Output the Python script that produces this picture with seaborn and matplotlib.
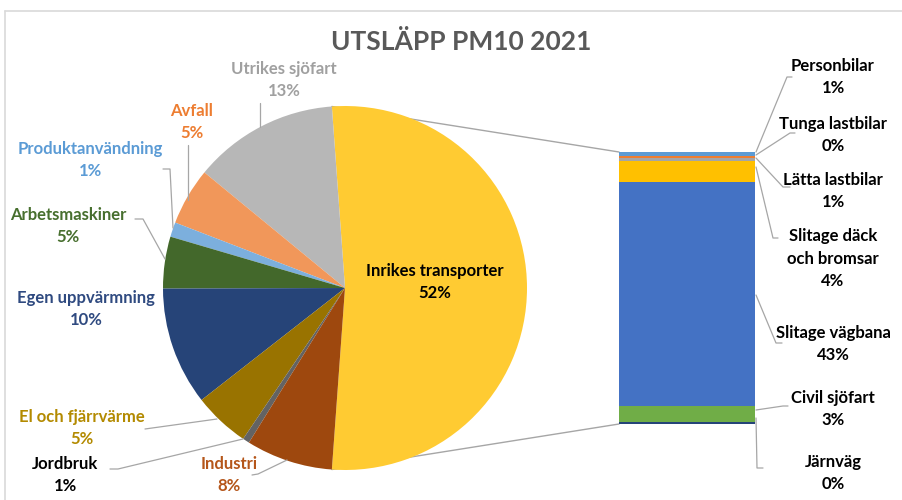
import matplotlib
matplotlib.use("Agg")
import matplotlib.pyplot as plt
import seaborn as sns
import numpy as np
from matplotlib.patches import ConnectionPatch
from matplotlib.lines import Line2D

sns.set_style("white")
plt.rcParams['font.family'] = ['Lato', 'DejaVu Sans']

# ---- data ----
title = "UTSLÄPP PM10 2021"
bar_categories = ["Järnväg", "Civil sjöfart", "Slitage vägbana", "Slitage däck\noch bromsar",
                  "Lätta lastbilar", "Tunga lastbilar", "Personbilar"]
bar_values = [0.3, 3.2, 43.0, 4.0, 0.7, 0.4, 0.7]
bar_labels_pct = ["0%", "3%", "43%", "4%", "1%", "0%", "1%"]
bar_colors = ["#264478", "#70AD47", "#4472C4", "#FFC000", "#A5A5A5", "#ED7D31", "#5B9BD5"]

pie_categories = ["Inrikes transporter", "Utrikes sjöfart", "Avfall", "Produktanvändning",
                  "Arbetsmaskiner", "Egen uppvärmning", "El och fjärrvärme", "Jordbruk", "Industri"]
other_values = [12.9, 5.1, 1.3, 4.6, 10.5, 5.0, 0.6, 7.7]
pie_values = [sum(bar_values)] + other_values
pie_labels_pct = ["52%", "13%", "5%", "1%", "5%", "10%", "5%", "1%", "8%"]
pie_colors = ["#FFCB32", "#B7B7B7", "#F1975A", "#7CAFDD", "#43682B", "#264478", "#997300", "#636363", "#9E480E"]
pie_text_colors = ["#000000", "#A0A0A0", "#ED7D31", "#5B9BD5", "#476F2E", "#2F4A80", "#B38A00", "#000000", "#B5561A"]

W, H = 903, 500
def fx(px): return px / W
def fy(py): return 1 - py / H

fig = plt.figure(figsize=(W / 100, H / 100), dpi=100)

# chart frame
line_c = "#D9D9D9"
fig.add_artist(Line2D([fx(5), fx(5)], [fy(11), fy(500)], color=line_c, lw=1.2, transform=fig.transFigure))
fig.add_artist(Line2D([fx(5), fx(903)], [fy(11), fy(11)], color=line_c, lw=1.2, transform=fig.transFigure))

# pie
cx, cy, r = 345, 288, 182
ax_pie = fig.add_axes([fx(cx - r), fy(cy + r), 2 * r / W, 2 * r / H])
ratio = pie_values[0] / sum(pie_values)
wedges, _ = ax_pie.pie(pie_values, colors=pie_colors, startangle=-ratio * 180, counterclock=True,
                       radius=1, wedgeprops=dict(linewidth=0))
ax_pie.set_xlim(-1, 1); ax_pie.set_ylim(-1, 1)
ax_pie.axis("off")
ax_pie.patch.set_visible(False)

# bar
bx0, bx1, by0, by1 = 619, 755, 152, 424
ax_bar = fig.add_axes([fx(bx0), fy(by1), (bx1 - bx0) / W, (by1 - by0) / H])
bottoms = np.concatenate([[0], np.cumsum(bar_values)[:-1]])
ax_bar.bar([0] * len(bar_values), bar_values, bottom=bottoms, width=1.0, color=bar_colors, linewidth=0)
ax_bar.set_xlim(-0.5, 0.5); ax_bar.set_ylim(0, sum(bar_values))
ax_bar.axis("off")

# connector lines pie -> bar
lc = "#A6A6A6"
t1, t2 = np.deg2rad(wedges[0].theta1), np.deg2rad(wedges[0].theta2)
for ang, yb in [(t2, sum(bar_values)), (t1, 0)]:
    con = ConnectionPatch(xyA=(np.cos(ang), np.sin(ang)), coordsA=ax_pie.transData,
                          xyB=(-0.5, yb), coordsB=ax_bar.transData, color=lc, lw=1.0, zorder=-1)
    fig.add_artist(con)

# title
fig.text(fx(461), fy(42), title, ha="center", va="center", fontsize=19, fontweight="bold", color="#595959")

fs = 12
ls = 1.5
# pie labels (pixel centres)
pie_label_pos = [(435, 282), (284, 80), (192, 122), (90, 160), (68, 226), (86, 309), (82, 428), (65, 475), (229, 475)]
for name, pct, col, (x, y) in zip(pie_categories, pie_labels_pct, pie_text_colors, pie_label_pos):
    fig.text(fx(x), fy(y), f"{name}\n{pct}", ha="center", va="center", fontsize=fs,
             fontweight="bold", color=col, linespacing=ls)

# bar labels
bar_label_pos = [(833, 473), (833, 409), (833, 344), (833, 259), (833, 191), (833, 135), (833, 77)]
for name, pct, (x, y) in zip(bar_categories, bar_labels_pct, bar_label_pos):
    fig.text(fx(x), fy(y), f"{name}\n{pct}", ha="center", va="center", fontsize=fs,
             fontweight="bold", color="#000000", linespacing=ls)

# leader lines (pixel coordinates)
leaders = [
    [(260, 103), (260, 127)],                       # Utrikes
    [(188, 145), (188, 200)],                       # Avfall
    [(163, 169), (170, 169), (173, 228)],           # Produkt
    [(135, 219), (143, 219), (165, 259)],           # Arbets
    [(145, 429), (217, 419)],                       # El
    [(110, 469), (118, 469), (243, 439)],           # Jordbruk
    [(252, 475), (258, 474), (287, 460)],           # Industri
    [(756, 152), (787, 77), (792, 77)],             # Personbilar
    [(756, 155), (790, 133), (795, 133)],           # Tunga
    [(756, 158), (783, 187), (790, 187)],           # Lätta
    [(756, 167), (773, 238), (778, 238)],           # Slitage däck
    [(756, 295), (776, 343), (782, 343)],           # Slitage vägbana
    [(756, 410), (783, 406), (788, 406)],           # Civil sjöfart
    [(756, 418), (757, 468), (763, 468)],           # Järnväg
]
for pts in leaders:
    xs = [fx(p[0]) for p in pts]; ys = [fy(p[1]) for p in pts]
    fig.add_artist(Line2D(xs, ys, color=lc, lw=0.9, transform=fig.transFigure))

fig.savefig("out.png", dpi=100)
